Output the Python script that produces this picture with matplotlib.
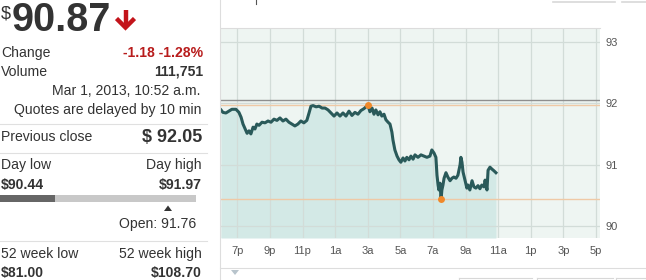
import matplotlib
matplotlib.use("Agg")
import matplotlib.pyplot as plt
from matplotlib.patches import Rectangle, Polygon

plt.rcParams['font.family'] = ['Liberation Sans', 'DejaVu Sans']

# ---------------- data ----------------
# minutes after 6:00 p.m. (Feb 28) and price
minutes = [0, 7, 18, 29, 40, 55, 66, 74, 81, 88, 96, 103, 110, 118, 125, 132, 140,
           151, 162, 173, 184, 195, 206, 217, 228, 239, 250, 261, 272, 283, 294, 305,
           316, 324, 331, 339, 350, 361, 372, 383, 394, 405, 416, 427, 438, 449, 460,
           471, 482, 493, 504, 515, 526, 534, 541, 548, 556, 563, 570, 578, 585, 592,
           600, 607, 615, 622, 629, 633, 640, 648, 655, 662, 670, 677, 684, 692, 699,
           707, 714, 725, 736, 747, 758, 769, 776, 784, 791, 795, 799, 802, 806, 810,
           813, 817, 821, 828, 835, 843, 850, 857, 865, 872, 880, 883, 887, 891, 898,
           905, 909, 916, 924, 931, 938, 946, 953, 960, 968, 972, 979, 983, 990, 997,
           1005, 1012]
prices = [91.89, 91.85, 91.84, 91.87, 91.90, 91.90, 91.85, 91.77, 91.66, 91.59, 91.51,
          91.55, 91.50, 91.61, 91.58, 91.66, 91.64, 91.69, 91.68, 91.71, 91.69, 91.74,
          91.72, 91.76, 91.71, 91.74, 91.69, 91.66, 91.63, 91.66, 91.71, 91.68, 91.72,
          91.84, 91.95, 91.96, 91.94, 91.95, 91.92, 91.92, 91.89, 91.84, 91.79, 91.84,
          91.79, 91.84, 91.79, 91.87, 91.80, 91.85, 91.82, 91.88, 91.91, 91.94, 91.97,
          91.86, 91.92, 91.82, 91.89, 91.81, 91.86, 91.79, 91.82, 91.73, 91.69, 91.66,
          91.53, 91.40, 91.24, 91.14, 91.08, 91.04, 91.11, 91.06, 91.12, 91.08, 91.14,
          91.09, 91.16, 91.12, 91.16, 91.14, 91.12, 91.14, 91.24, 91.19, 91.12, 90.83,
          90.67, 90.59, 90.70, 90.44, 90.59, 90.67, 90.78, 90.87, 90.80, 90.74, 90.78,
          90.80, 90.78, 90.83, 91.00, 91.12, 91.04, 90.88, 90.75, 90.62, 90.67, 90.59,
          90.74, 90.64, 90.62, 90.66, 90.61, 90.67, 90.64, 90.75, 90.59, 90.91, 90.96,
          90.93, 90.90, 90.87]

tick_minutes = [60, 180, 300, 420, 540, 660, 780, 900, 1020, 1140, 1260, 1380]
tick_labels = ['7p', '9p', '11p', '1a', '3a', '5a', '7a', '9a', '11a', '1p', '3p', '5p']
y_ticks = [90, 91, 92, 93]

prev_close = 92.05
day_high = 91.97
day_low = 90.44
high_minute = 541
low_minute = 810

last_price = "90.87"
change_text = "-1.18 -1.28%"
volume_text = "111,751"
date_text = "Mar 1, 2013, 10:52 a.m."
delay_text = "Quotes are delayed by 10 min"
prev_close_text = "$ 92.05"
day_low_text = "$90.44"
day_high_text = "$91.97"
open_text = "Open: 91.76"
wk52_low_text = "$81.00"
wk52_high_text = "$108.70"

# ---------------- figure ----------------
W, H = 646, 280
fig = plt.figure(figsize=(W / 100, H / 100), dpi=100)
fig.patch.set_facecolor('white')

def fx(px):
    return px / W

def fy(py):
    return 1 - py / H

# chart axes
L, R, T, B = 221, 600, 28, 238
ax = fig.add_axes([fx(L), fy(B), fx(R) - fx(L), fy(T) - fy(B)])
ax.set_facecolor('#eef5f2')
ax.set_xlim(0, 1395)
ax.set_ylim(89.81, 93.22)

ax.fill_between(minutes, prices, 89.81, color='#d3e9e6', lw=0, zorder=1)
for m in tick_minutes:
    ax.axvline(m, color='#d2dcd8', lw=0.9, zorder=2)
for v in y_ticks:
    ax.axhline(v, color='#d2dcd8', lw=0.9, zorder=2)
ax.axhline(prev_close, color='#8f8f8f', lw=1.0, zorder=3)
ax.axhline(day_high, color='#efc9a6', lw=1.0, zorder=3)
ax.axhline(day_low, color='#efc9a6', lw=1.0, zorder=3)
ax.plot(minutes, prices, color='#2a5a5a', lw=2.2, zorder=4, solid_joinstyle='round')
ax.plot([high_minute], [day_high], 'o', color='#f0892a', ms=5, mec='none', zorder=5)
ax.plot([low_minute], [day_low], 'o', color='#f0892a', ms=5, mec='none', zorder=5)

ax.set_xticks(tick_minutes)
ax.set_xticklabels(tick_labels)
ax.set_yticks(y_ticks)
ax.set_yticklabels([str(v) for v in y_ticks])
ax.yaxis.tick_right()
ax.tick_params(axis='both', length=0, labelsize=8, labelcolor='#555555')
ax.tick_params(axis='x', pad=6)
ax.tick_params(axis='y', pad=4)
for s in ['left', 'bottom', 'right']:
    ax.spines[s].set_visible(False)
ax.spines['top'].set_color('#dcdcdc')
ax.spines['top'].set_linewidth(0.8)

# overlay in pixel coordinates
ov = fig.add_axes([0, 0, 1, 1], zorder=10)
ov.set_xlim(0, W)
ov.set_ylim(H, 0)
ov.axis('off')
ov.patch.set_alpha(0)

dark = '#333333'
red = '#b81c1c'

# separators
ov.plot([220, 220], [0, H], color='#dddddd', lw=0.8)
ov.plot([220, W], [267.5, 267.5], color='#dddddd', lw=0.8)
for yy in (123.5, 152.5, 240.5):
    ov.plot([0, 207], [yy, yy], color='#e0e0e0', lw=0.8)

# big price
ov.text(1, 18, '$', fontsize=13, color=dark, ha='left', va='baseline')
ov.text(12, 31, last_price, fontsize=28.5, fontweight='bold', color=dark,
        ha='left', va='baseline')
ov.plot([125.5, 125.5], [10, 26], color='#c3141b', lw=3.2, solid_capstyle='butt')
ov.plot([116.5, 125.5, 134.5], [18.5, 27.5, 18.5], color='#c3141b', lw=3.2,
        solid_joinstyle='miter', solid_capstyle='butt')

fs = 10.1
ov.text(1, 57, 'Change', fontsize=fs, color=dark, va='baseline')
ov.text(203, 57, change_text, fontsize=fs, color=red, fontweight='bold',
        ha='right', va='baseline')
ov.text(1, 76, 'Volume', fontsize=fs, color=dark, va='baseline')
ov.text(203, 76, volume_text, fontsize=fs, color=dark, fontweight='bold',
        ha='right', va='baseline')
ov.text(201, 95, date_text, fontsize=fs, color=dark, ha='right', va='baseline')
ov.text(201, 114, delay_text, fontsize=fs, color=dark, ha='right', va='baseline')

ov.text(1, 141, 'Previous close', fontsize=fs, color=dark, va='baseline')
ov.text(202, 142, prev_close_text, fontsize=13, color=dark, fontweight='bold',
        ha='right', va='baseline')

ov.text(1, 169, 'Day low', fontsize=fs, color=dark, va='baseline')
ov.text(202, 169, 'Day high', fontsize=fs, color=dark, ha='right', va='baseline')
ov.text(1, 189, day_low_text, fontsize=fs, color=dark, fontweight='bold', va='baseline')
ov.text(202, 189, day_high_text, fontsize=fs, color=dark, fontweight='bold',
        ha='right', va='baseline')

ov.add_patch(Rectangle((0, 195), 196, 7, color='#c8c8c8', lw=0))
ov.add_patch(Rectangle((0, 195), 55, 7, color='#666666', lw=0))
ov.add_patch(Polygon([[164, 211], [172, 211], [168, 205.5]], closed=True,
                     color='#333333', lw=0))
ov.text(196, 228, open_text, fontsize=fs, color=dark, ha='right', va='baseline')

ov.text(1, 258, '52 week low', fontsize=fs, color=dark, va='baseline')
ov.text(202, 258, '52 week high', fontsize=fs, color=dark, ha='right', va='baseline')
ov.text(1, 277, wk52_low_text, fontsize=fs, color=dark, fontweight='bold', va='baseline')
ov.text(202, 277, wk52_high_text, fontsize=fs, color=dark, fontweight='bold',
        ha='right', va='baseline')

# small decorations of the page
ov.add_patch(Polygon([[231, 270], [239, 270], [235, 275]], closed=True,
                     color='#b8c4cc', lw=0))
ov.plot([256, 256], [0, 4], color='#555555', lw=0.8)
for x0, x1 in ((553, 615), (622, 646)):
    ov.plot([x0, x1], [1.5, 1.5], color='#d8d8d8', lw=1.2)
for x0, x1 in ((459, 532), (537, 613), (616, 646)):
    ov.plot([x0, x1], [277.5, 277.5], color='#d8d8d8', lw=0.8)
    ov.plot([x0, x0], [277.5, 280], color='#d8d8d8', lw=0.8)

fig.savefig('out.png', dpi=100, facecolor='white')
